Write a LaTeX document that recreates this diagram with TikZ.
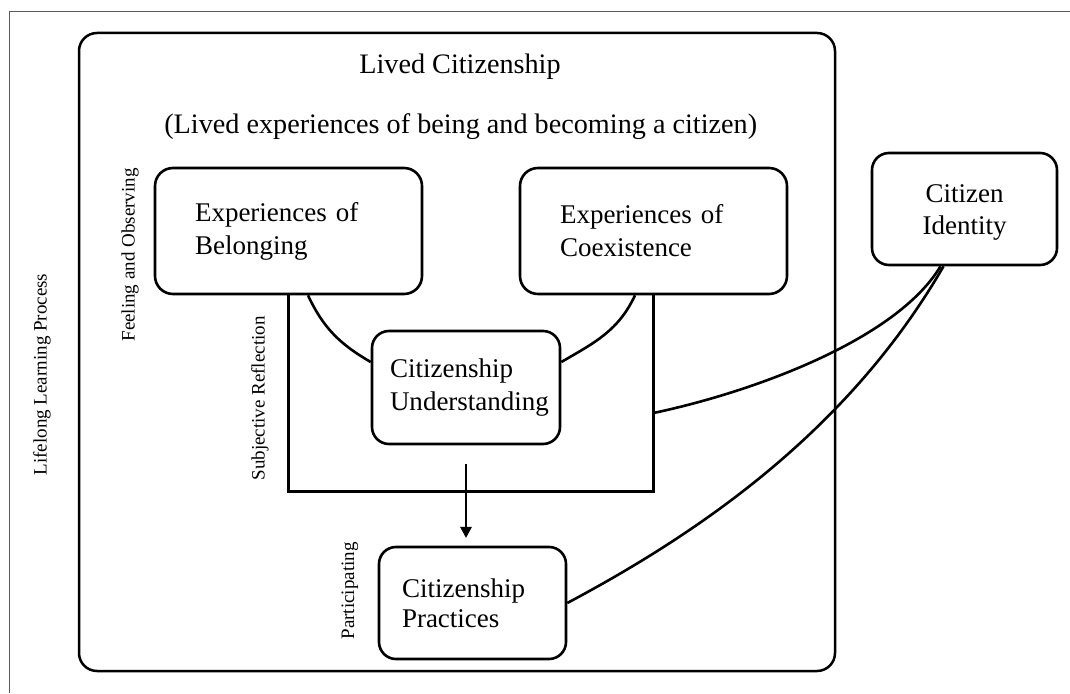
\documentclass[tikz,border=0pt]{standalone}
\usepackage{fontspec}
\setmainfont{Liberation Serif}
\usetikzlibrary{arrows.meta,calc}
\newcommand\mainfs{\fontsize{27}{33}\selectfont}
\tikzset{
  box/.style={draw, line width=2.6pt, rounded corners=17pt, inner ysep=0pt, font=\mainfs},
  side/.style={rotate=90, inner sep=0pt, font=\fontsize{19}{22}\selectfont},
  link/.style={line width=2.6pt},
  framecol/.style={draw=black!65, line width=1.2pt},
}
\begin{document}
\begin{tikzpicture}[x=1pt,y=1pt]
\useasboundingbox (0,0) rectangle (1070,693);
% outer frame (cropped)
\draw[framecol] (9.5,0) -- (9.5,681.5) -- (1070,681.5);
% main container
\node[draw, line width=2.5pt, rounded corners=18pt, minimum width=756pt, minimum height=638pt, inner sep=0pt] (lived) at (457,341) {};
\node[anchor=base, font=\fontsize{28.2}{30}\selectfont, inner sep=0pt] (title) at (460,619) {Lived Citizenship};
\node[anchor=base, font=\fontsize{28.2}{30}\selectfont, inner sep=0pt] (sub) at (460.7,559) {(Lived experiences of being and becoming a citizen)};
% boxes
\node[box, rounded corners=18pt, minimum width=267pt, minimum height=126pt, text width=187pt, inner xsep=40pt, align=left] (bel) at (288.5,462) {Experiences of\\Belonging};
\node[box, rounded corners=18pt, minimum width=267pt, minimum height=126pt, text width=187pt, inner xsep=40pt, align=left] (coex) at (653.5,462) {Experiences of\\Coexistence};
\node[box, minimum width=185pt, minimum height=112pt, text width=165pt, inner xsep=10pt, align=center, text depth=30pt, font=\fontsize{27}{32}\selectfont] (id) at (964.5,484) {Citizen\\Identity};
\node[box, minimum width=188pt, minimum height=113pt, text width=152pt, inner xsep=18pt, align=left] (und) at (466,305.5) {Citizenship\\Understanding};
\node[box, minimum width=187pt, minimum height=112pt, text width=141pt, inner xsep=23pt, align=left, font=\fontsize{27}{30}\selectfont] (prac) at (472.5,90) {Citizenship\\Practices};
% side labels
\node[side] (lll) at (42,318.5) {Lifelong Learning Process};
\node[side] (feel) at (130,438) {Feeling and Observing};
\node[side] (subj) at (260,294.5) {Subjective Reflection};
\node[side] (part) at (350,102) {Participating};
% bracket
\coordinate (bb) at (0,201);
\coordinate (br1) at (0,280);
\coordinate (ae) at (0,155);
\draw[line width=3pt] (bel.south) -- (bel.south |- bb) -- (coex.south |- bb) -- (coex.south);
% arcs into understanding
\draw[link] ([xshift=19.5pt]bel.south) to[out=-65,in=150] ([yshift=25.5pt]und.west);
\draw[link] ([xshift=-18.5pt]coex.south) to[out=-115,in=30] ([yshift=25.5pt]und.east);
% arrow to practices
\draw[link, -{Triangle[length=11pt,width=11pt]}] ([yshift=-19pt]und.south) -- (und.south |- ae);
% curves to citizen identity
\draw[link] (coex.south |- br1) .. controls +(95,20) and +(-45,-75) .. ([xshift=-24pt]id.south);
\draw[link] (prac.east) .. controls +(132.4,70.4) and +(-95,-164.5) .. ([xshift=-21pt]id.south);
\end{tikzpicture}
\end{document}
